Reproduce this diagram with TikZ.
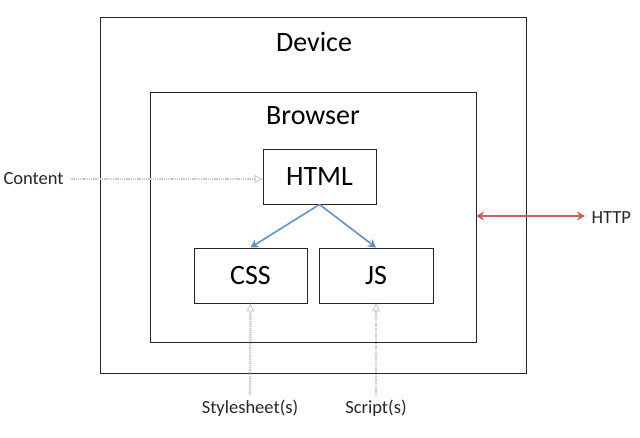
\documentclass[tikz,border=0pt]{standalone}
\usepackage{fontspec}
\setmainfont{Carlito}
\usetikzlibrary{arrows.meta}
\begin{document}
\begin{tikzpicture}[x=1pt,y=-1pt,
  box/.style={draw=black!85,line width=0.9pt,inner sep=0pt},
  big/.style={font=\fontsize{28}{32}\selectfont},
  small/.style={font=\fontsize{18.5}{22}\selectfont,text=black!85},
  feed/.style={draw=black!20,line width=2.4pt,dash pattern=on 1.4pt off 0.8pt,
    -{Triangle[open,length=8pt,width=8pt,line width=1pt]}},
  flow/.style={color={rgb,255:red,98;green,146;blue,204},line width=1.6pt,-{Stealth[length=8pt,width=9pt]}},
  http/.style={color={rgb,255:red,200;green,96;blue,92},line width=1.6pt,{Stealth[length=8pt,width=9pt]}-{Stealth[length=8pt,width=9pt]}}]
\useasboundingbox (0,0) rectangle (640,437);
\draw[box] (100,17) rectangle (526,373);
\node[big] (device) at (314,42) {Device};
\draw[box] (150,92) rectangle (476,342);
\coordinate (brR) at (476,216);
\node[big] (browser) at (313,116) {Browser};
\node[box,big,minimum width=113pt,minimum height=55pt] (html) at (319.5,176.5) {HTML};
\node[box,big,minimum width=113pt,minimum height=55pt] (css) at (250.5,275.5) {CSS};
\node[box,big,minimum width=114pt,minimum height=55pt] (js) at (376,275.5) {JS};
\node[small,anchor=west] (content) at (0,179) {Content};
\node[small,anchor=west] (httpl) at (588,218) {HTTP};
\node[small] (style) at (250,408) {Stylesheet(s)};
\node[small] (script) at (376,408) {Script(s)};
\draw[flow] (html.south) -- (css.north);
\draw[flow] (html.south) -- (js.north);
\draw[http] (brR) -- (585,216) coordinate (hE);
\draw[feed] (content.east) ++(4,0) -- (html.west |- content.east);
\draw[feed] (250,395) -- (css.south);
\draw[feed] (376,395) -- (js.south);
\end{tikzpicture}
\end{document}
